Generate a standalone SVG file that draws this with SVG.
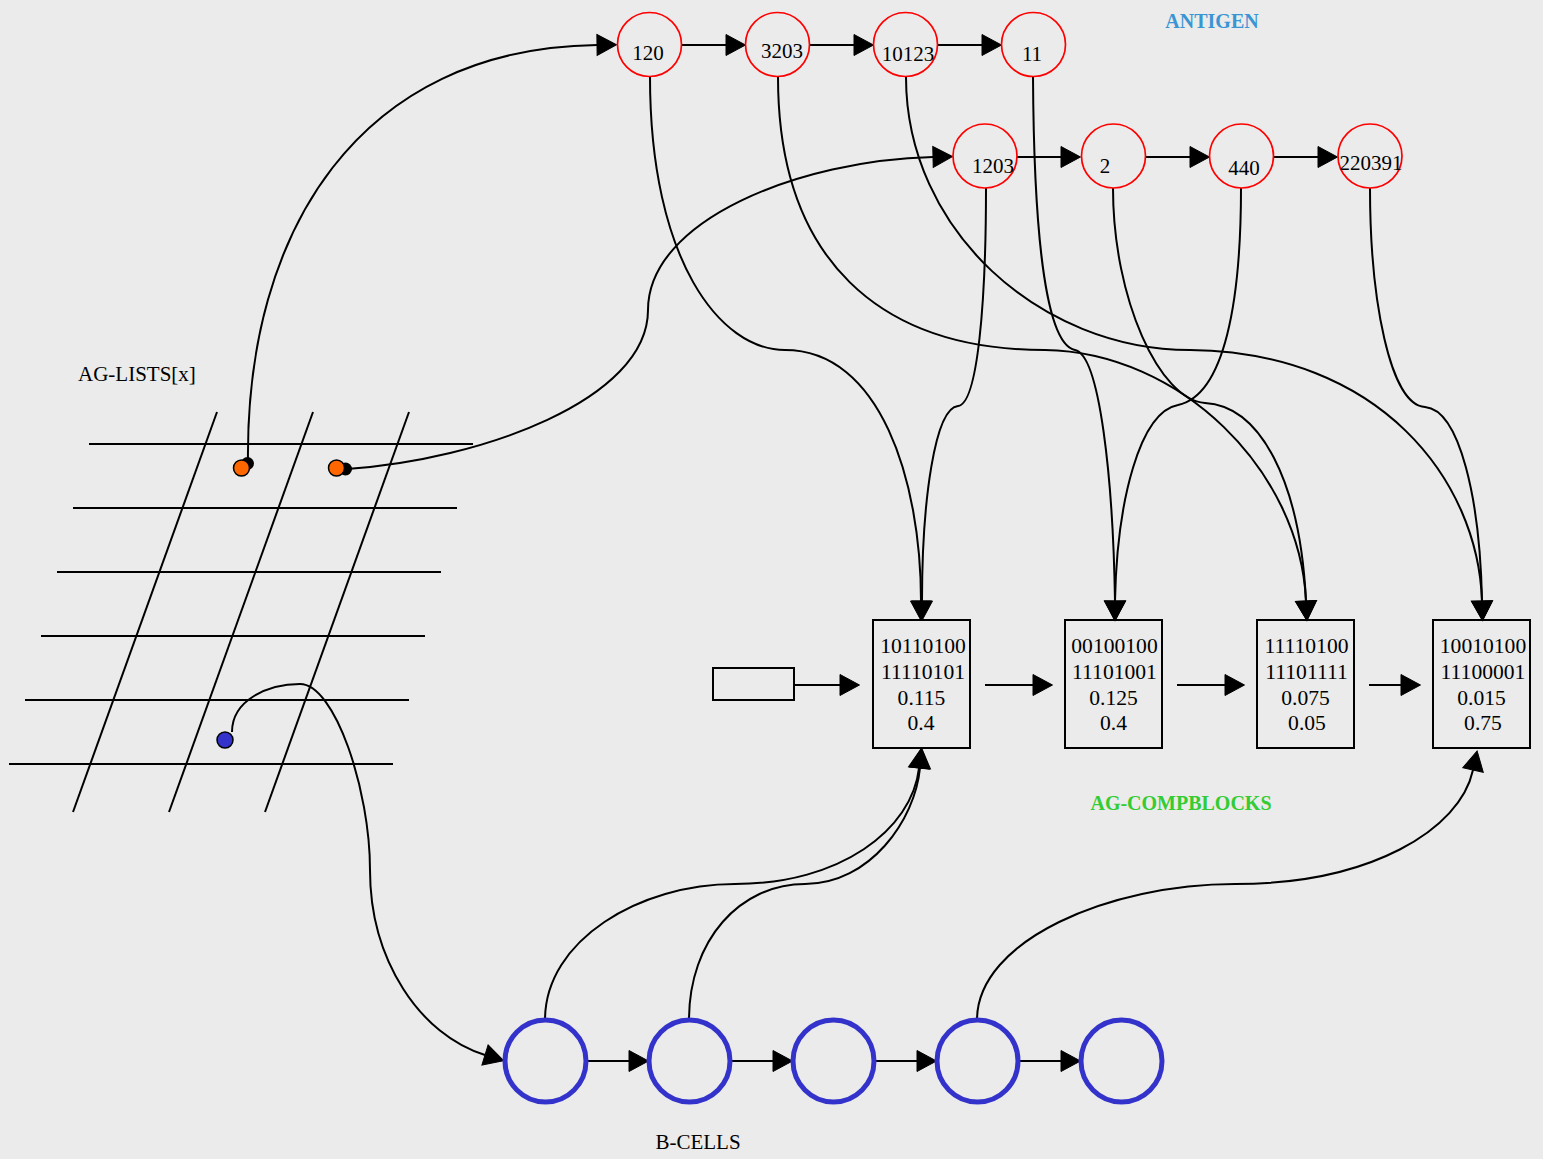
<svg xmlns="http://www.w3.org/2000/svg" width="1543" height="1159" viewBox="0 0 1543 1159">
<style>
.bg{fill:#ebebeb}
.ea{fill:none;stroke:#000;stroke-width:2;marker-end:url(#ah)}
.ag{fill:none;stroke:#ff0000;stroke-width:1.7}
.bc{fill:none;stroke:#3333cc;stroke-width:5}
.box{fill:none;stroke:#000;stroke-width:2}
.g{stroke:#000;stroke-width:2}
text{font-family:"Liberation Serif","Times New Roman",serif;fill:#000}
.t{font-size:21px;text-anchor:middle}
.tb{font-size:21.6px;text-anchor:middle}
.lbl{font-size:21px}
.h{font-size:20px;font-weight:bold;text-anchor:middle}
</style>
<defs>
<marker id="ah" markerUnits="userSpaceOnUse" viewBox="0 0 20 22" markerWidth="20" markerHeight="22" refX="0" refY="11" orient="auto" overflow="visible">
<path d="M0,0.5 L19.5,11 L0,21.5 Z" fill="#000" stroke="#000" stroke-width="1"/>
</marker>
</defs>
<rect class="bg" x="0" y="0" width="1543" height="1159"/>

<g id="labels">
<text class="h" x="1212" y="28" style="fill:#3a95d3">ANTIGEN</text>
<text class="h" x="1181" y="810" style="fill:#33cc33">AG-COMPBLOCKS</text>
<text class="lbl" x="78" y="381">AG-LISTS[x]</text>
<text class="lbl" x="698" y="1149" text-anchor="middle">B-CELLS</text>
</g>

<g id="ag-lists">
<line class="g" x1="89" y1="444" x2="473" y2="444"/>
<line class="g" x1="73" y1="508" x2="457" y2="508"/>
<line class="g" x1="57" y1="572" x2="441" y2="572"/>
<line class="g" x1="41" y1="636" x2="425" y2="636"/>
<line class="g" x1="25" y1="700" x2="409" y2="700"/>
<line class="g" x1="9" y1="764" x2="393" y2="764"/>
<line class="g" x1="217" y1="412" x2="73" y2="812"/>
<line class="g" x1="313" y1="412" x2="169" y2="812"/>
<line class="g" x1="409" y1="412" x2="265" y2="812"/>
</g>

<g id="connectors">
<path class="ea" d="M248,463 C245,230 360,48 597,45"/>
<path class="ea" d="M347,469 C480,460 648,400 648,310 C648,220 800,160 933,157"/>
<path class="ea" d="M232,732 C232,700 268,684 300,684 C335,684 370,790 370,870 C370,960 420,1035 485,1055"/>
<line class="ea" x1="682" y1="45" x2="726" y2="45"/>
<line class="ea" x1="810" y1="45" x2="854" y2="45"/>
<line class="ea" x1="938" y1="45" x2="982" y2="45"/>
<line class="ea" x1="1017" y1="157" x2="1061" y2="157"/>
<line class="ea" x1="1146" y1="157" x2="1190" y2="157"/>
<line class="ea" x1="1274" y1="157" x2="1318" y2="157"/>
<path class="ea" d="M650,77 C650,260 720,350 785,350 C880,350 921,480 921,601"/>
<path class="ea" d="M986,188 C986,300 978,404 958,406 C935,408 922,500 922,601"/>
<path class="ea" d="M778,77 C778,260 880,350 1045,350 C1180,352 1300,470 1306,601"/>
<path class="ea" d="M1113,188 C1113,300 1160,400 1205,403 C1260,406 1300,480 1306,601"/>
<path class="ea" d="M906,77 C906,230 1040,350 1190,350 C1380,352 1478,480 1482,601"/>
<path class="ea" d="M1370,188 C1370,300 1390,405 1425,407 C1460,410 1480,500 1482,601"/>
<path class="ea" d="M1033,77 C1034,250 1048,345 1075,350 C1100,355 1113,480 1115,601"/>
<path class="ea" d="M1241,188 C1241,300 1225,395 1178,405 C1140,412 1117,500 1115,601"/>
<line class="ea" x1="794" y1="685" x2="840" y2="685"/>
<line class="ea" x1="985" y1="685" x2="1033" y2="685"/>
<line class="ea" x1="1177" y1="685" x2="1225" y2="685"/>
<line class="ea" x1="1369" y1="685" x2="1401" y2="685"/>
<line class="ea" x1="587" y1="1061" x2="629" y2="1061"/>
<line class="ea" x1="731" y1="1061" x2="773" y2="1061"/>
<line class="ea" x1="875" y1="1061" x2="917" y2="1061"/>
<line class="ea" x1="1019" y1="1061" x2="1061" y2="1061"/>
<path class="ea" d="M545,1020 C545,940 640,884 735,884 C840,884 912,830 919,768"/>
<path class="ea" d="M689,1020 C689,940 740,884 805,884 C870,884 915,820 920,768"/>
<path class="ea" d="M977,1020 C977,940 1110,884 1235,884 C1370,884 1460,830 1473,770"/>
</g>

<g id="dot1">
<circle cx="247.5" cy="463.5" r="6.5" fill="#000"/>
<circle cx="241.5" cy="468" r="8" fill="#ff6600" stroke="#000" stroke-width="1.5"/>
</g>
<g id="dot2">
<circle cx="345.5" cy="469" r="6.5" fill="#000"/>
<circle cx="336.5" cy="468" r="8" fill="#ff6600" stroke="#000" stroke-width="1.5"/>
</g>
<g id="dot3">
<circle cx="225" cy="740" r="8" fill="#3333cc" stroke="#000" stroke-width="1.5"/>
</g>

<g id="ag120"><circle class="ag" cx="649.5" cy="44.5" r="32"/><text class="t" x="648" y="60">120</text></g>
<g id="ag3203"><circle class="ag" cx="777.5" cy="44.5" r="32"/><text class="t" x="782" y="58">3203</text></g>
<g id="ag10123"><circle class="ag" cx="905.5" cy="44.5" r="32"/><text class="t" x="908" y="61">10123</text></g>
<g id="ag11"><circle class="ag" cx="1033.5" cy="44.5" r="32"/><text class="t" x="1032" y="61">11</text></g>
<g id="ag1203"><circle class="ag" cx="985" cy="156" r="32"/><text class="t" x="993" y="173">1203</text></g>
<g id="ag2"><circle class="ag" cx="1113.5" cy="156" r="32"/><text class="t" x="1105" y="173">2</text></g>
<g id="ag440"><circle class="ag" cx="1241.5" cy="156" r="32"/><text class="t" x="1244" y="175">440</text></g>
<g id="ag220391"><circle class="ag" cx="1370" cy="156" r="32"/><text class="t" x="1371" y="170">220391</text></g>

<g id="cb0"><rect class="box" x="713" y="668" width="81" height="32"/></g>
<g id="cb1"><rect class="box" x="873" y="620" width="97" height="128"/>
<text class="tb" x="923" y="653">10110100</text><text class="tb" x="923" y="678.5">11110101</text><text class="tb" x="921.5" y="704.5">0.115</text><text class="tb" x="921" y="730">0.4</text></g>
<g id="cb2"><rect class="box" x="1065" y="620" width="97" height="128"/>
<text class="tb" x="1114.5" y="653">00100100</text><text class="tb" x="1114.5" y="678.5">11101001</text><text class="tb" x="1113.5" y="704.5">0.125</text><text class="tb" x="1113.5" y="730">0.4</text></g>
<g id="cb3"><rect class="box" x="1257" y="620" width="97" height="128"/>
<text class="tb" x="1306.5" y="653">11110100</text><text class="tb" x="1306.5" y="678.5">11101111</text><text class="tb" x="1305.5" y="704.5">0.075</text><text class="tb" x="1307" y="730">0.05</text></g>
<g id="cb4"><rect class="box" x="1433" y="620" width="97" height="128"/>
<text class="tb" x="1483" y="653">10010100</text><text class="tb" x="1483" y="678.5">11100001</text><text class="tb" x="1481.5" y="704.5">0.015</text><text class="tb" x="1483" y="730">0.75</text></g>

<g id="bc1"><ellipse class="bc" cx="545.5" cy="1061" rx="40.5" ry="41"/></g>
<g id="bc2"><ellipse class="bc" cx="689.5" cy="1061" rx="40.5" ry="41"/></g>
<g id="bc3"><ellipse class="bc" cx="833.5" cy="1061" rx="40.5" ry="41"/></g>
<g id="bc4"><ellipse class="bc" cx="977.5" cy="1061" rx="40.5" ry="41"/></g>
<g id="bc5"><ellipse class="bc" cx="1121.5" cy="1061" rx="40.5" ry="41"/></g>
</svg>
